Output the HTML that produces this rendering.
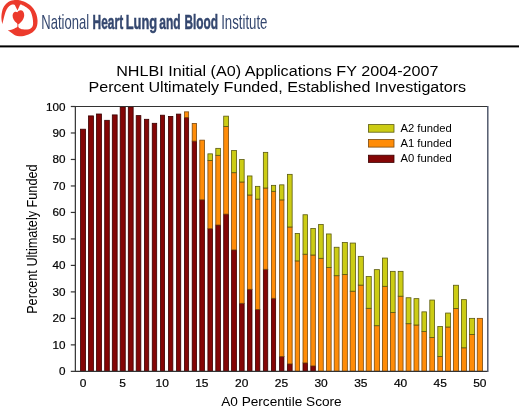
<!DOCTYPE html>
<html><head><meta charset="utf-8"><style>
html,body{margin:0;padding:0;background:#fff;}
body{width:520px;height:406px;overflow:hidden;position:relative;font-family:"Liberation Sans",sans-serif;}
svg{position:absolute;left:0;top:0;will-change:transform;}
</style></head><body>
<svg width="520" height="406" viewBox="0 0 520 406" font-family='"Liberation Sans", sans-serif'>
<g fill="#ec3a2c"><path d="M2.30,24.20 C2.15,23.13 1.40,20.08 1.40,17.80 C1.40,15.52 1.75,12.55 2.30,10.50 C2.85,8.45 3.70,6.92 4.70,5.50 C5.70,4.08 7.12,2.82 8.30,2.00 C9.48,1.18 10.72,0.92 11.80,0.60 C12.88,0.28 13.93,0.20 14.80,0.10 C15.67,0.00 16.22,-0.03 17.00,0.00 C17.78,0.03 18.67,0.12 19.50,0.30 C20.33,0.48 20.92,0.73 22.00,1.10 C23.08,1.47 24.67,1.83 26.00,2.50 C27.33,3.17 28.75,4.05 30.00,5.10 C31.25,6.15 32.45,7.32 33.50,8.80 C34.55,10.28 35.63,12.13 36.30,14.00 C36.97,15.87 37.37,18.08 37.50,20.00 C37.63,21.92 37.47,23.92 37.10,25.50 C36.73,27.08 36.10,28.35 35.30,29.50 C34.50,30.65 33.43,31.58 32.30,32.40 C31.17,33.22 29.92,33.82 28.50,34.40 C27.08,34.98 25.35,35.60 23.80,35.90 C22.25,36.20 20.58,36.28 19.20,36.20 C17.82,36.12 16.57,35.80 15.50,35.40 C14.43,35.00 13.72,34.40 12.80,33.80 C11.88,33.20 10.83,32.38 10.00,31.80 C9.17,31.22 8.17,30.55 7.80,30.30 L7.80,30.30 C8.17,30.23 9.17,30.08 10.00,29.90 C10.83,29.72 11.92,29.52 12.80,29.20 C13.68,28.88 14.55,28.40 15.30,28.00 C16.05,27.60 16.97,27.63 17.30,26.80 C17.63,25.97 17.30,23.63 17.30,23.00 L18.40,23.00 C18.40,23.63 18.20,25.93 18.40,26.80 C18.60,27.67 18.85,27.78 19.60,28.20 C20.35,28.62 21.62,29.10 22.90,29.30 C24.18,29.50 26.02,29.55 27.30,29.40 C28.58,29.25 29.72,28.92 30.60,28.40 C31.48,27.88 32.18,27.20 32.60,26.30 C33.02,25.40 33.08,24.30 33.10,23.00 C33.12,21.70 32.95,20.00 32.70,18.50 C32.45,17.00 32.08,15.37 31.60,14.00 C31.12,12.63 30.68,11.43 29.80,10.30 C28.92,9.17 27.53,8.05 26.30,7.20 C25.07,6.35 23.42,5.63 22.40,5.20 C21.38,4.77 20.57,4.70 20.20,4.60 L17.5,10.6 L14.8,5.0 L14.80,5.00 C14.60,4.92 14.25,4.50 13.60,4.50 C12.95,4.50 11.85,4.48 10.90,5.00 C9.95,5.52 8.80,6.43 7.90,7.60 C7.00,8.77 6.18,10.27 5.50,12.00 C4.82,13.73 4.33,15.97 3.80,18.00 C3.27,20.03 2.55,23.17 2.30,24.20 Z"/><path d="M18.5,24.2 C16,22.8 13.5,20.5 12.8,17.5 C12.2,14.5 13.2,12.2 15,11.8 C16,11.6 16.8,11.9 17.3,12.3 C18.2,10.8 19.6,10 21,10.2 C23.2,10.6 24.4,12.8 24.2,15.5 C24,19 21.5,22.5 18.5,24.2 Z"/></g>
<text font-size="20.349" fill="#34476f" transform="translate(41.33,29.40) scale(0.6408,1)" >National</text>
<text font-weight="bold" stroke="#34476f" stroke-width="0.5" font-size="20.349" fill="#34476f" transform="translate(92.60,29.10) scale(0.5870,1)" >Heart</text>
<text font-weight="bold" stroke="#34476f" stroke-width="0.5" font-size="20.349" fill="#34476f" transform="translate(125.64,29.10) scale(0.6340,1)" >Lung</text>
<text font-weight="bold" stroke="#34476f" stroke-width="0.5" font-size="20.349" fill="#34476f" transform="translate(159.35,29.10) scale(0.5898,1)" >and</text>
<text font-weight="bold" stroke="#34476f" stroke-width="0.5" font-size="20.349" fill="#34476f" transform="translate(184.41,29.10) scale(0.5824,1)" >Blood</text>
<text font-size="20.349" fill="#34476f" transform="translate(221.18,29.30) scale(0.6497,1)" >Institute</text>
<rect x="0" y="45.4" width="519" height="2" fill="#000"/>
<text font-size="14.680" fill="#000" transform="translate(116.17,75.60) scale(1.1020,1)" >NHLBI Initial (A0) Applications FY 2004-2007</text>
<text font-size="14.535" fill="#000" transform="translate(88.48,92.00) scale(1.1093,1)" >Percent Ultimately Funded, Established Investigators</text>
<line x1="70.8" y1="371.35" x2="75.4" y2="371.35" stroke="#333" stroke-width="1.2"/>
<text font-size="10.458" stroke="#000" stroke-width="0.2" transform="translate(59.04,375.35) scale(1.1200,1)">0</text>
<line x1="70.8" y1="344.87" x2="75.4" y2="344.87" stroke="#333" stroke-width="1.2"/>
<text font-size="10.458" stroke="#000" stroke-width="0.2" transform="translate(52.53,348.87) scale(1.1200,1)">10</text>
<line x1="70.8" y1="318.38" x2="75.4" y2="318.38" stroke="#333" stroke-width="1.2"/>
<text font-size="10.458" stroke="#000" stroke-width="0.2" transform="translate(52.53,322.38) scale(1.1200,1)">20</text>
<line x1="70.8" y1="291.89" x2="75.4" y2="291.89" stroke="#333" stroke-width="1.2"/>
<text font-size="10.458" stroke="#000" stroke-width="0.2" transform="translate(52.53,295.89) scale(1.1200,1)">30</text>
<line x1="70.8" y1="265.41" x2="75.4" y2="265.41" stroke="#333" stroke-width="1.2"/>
<text font-size="10.458" stroke="#000" stroke-width="0.2" transform="translate(52.53,269.41) scale(1.1200,1)">40</text>
<line x1="70.8" y1="238.93" x2="75.4" y2="238.93" stroke="#333" stroke-width="1.2"/>
<text font-size="10.458" stroke="#000" stroke-width="0.2" transform="translate(52.53,242.93) scale(1.1200,1)">50</text>
<line x1="70.8" y1="212.44" x2="75.4" y2="212.44" stroke="#333" stroke-width="1.2"/>
<text font-size="10.458" stroke="#000" stroke-width="0.2" transform="translate(52.53,216.44) scale(1.1200,1)">60</text>
<line x1="70.8" y1="185.96" x2="75.4" y2="185.96" stroke="#333" stroke-width="1.2"/>
<text font-size="10.458" stroke="#000" stroke-width="0.2" transform="translate(52.53,189.96) scale(1.1200,1)">70</text>
<line x1="70.8" y1="159.47" x2="75.4" y2="159.47" stroke="#333" stroke-width="1.2"/>
<text font-size="10.458" stroke="#000" stroke-width="0.2" transform="translate(52.53,163.47) scale(1.1200,1)">80</text>
<line x1="70.8" y1="132.98" x2="75.4" y2="132.98" stroke="#333" stroke-width="1.2"/>
<text font-size="10.458" stroke="#000" stroke-width="0.2" transform="translate(52.53,136.98) scale(1.1200,1)">90</text>
<line x1="70.8" y1="106.50" x2="75.4" y2="106.50" stroke="#333" stroke-width="1.2"/>
<text font-size="10.458" stroke="#000" stroke-width="0.2" transform="translate(46.02,110.50) scale(1.1200,1)">100</text>
<text font-size="10.888" fill="#000" stroke="#000" stroke-width="0.2" transform="translate(79.67,386.80) scale(1.1000,1)">0</text>
<text font-size="10.888" fill="#000" stroke="#000" stroke-width="0.2" transform="translate(119.37,386.80) scale(1.1000,1)">5</text>
<text font-size="10.888" fill="#000" stroke="#000" stroke-width="0.2" transform="translate(155.49,386.80) scale(1.1000,1)">10</text>
<text font-size="10.888" fill="#000" stroke="#000" stroke-width="0.2" transform="translate(195.19,386.80) scale(1.1000,1)">15</text>
<text font-size="10.888" fill="#000" stroke="#000" stroke-width="0.2" transform="translate(235.01,386.80) scale(1.1000,1)">20</text>
<text font-size="10.888" fill="#000" stroke="#000" stroke-width="0.2" transform="translate(274.72,386.80) scale(1.1000,1)">25</text>
<text font-size="10.888" fill="#000" stroke="#000" stroke-width="0.2" transform="translate(314.46,386.80) scale(1.1000,1)">30</text>
<text font-size="10.888" fill="#000" stroke="#000" stroke-width="0.2" transform="translate(354.16,386.80) scale(1.1000,1)">35</text>
<text font-size="10.888" fill="#000" stroke="#000" stroke-width="0.2" transform="translate(393.92,386.80) scale(1.1000,1)">40</text>
<text font-size="10.888" fill="#000" stroke="#000" stroke-width="0.2" transform="translate(433.62,386.80) scale(1.1000,1)">45</text>
<text font-size="10.888" fill="#000" stroke="#000" stroke-width="0.2" transform="translate(473.18,386.80) scale(1.1000,1)">50</text>
<rect x="80.50" y="129.20" width="5.05" height="242.15" fill="#840606" stroke="#3a0000" stroke-width="0.8"/>
<rect x="88.50" y="115.90" width="4.95" height="255.45" fill="#840606" stroke="#3a0000" stroke-width="0.8"/>
<rect x="96.50" y="114.00" width="4.95" height="257.35" fill="#840606" stroke="#3a0000" stroke-width="0.8"/>
<rect x="104.70" y="120.30" width="4.60" height="251.05" fill="#840606" stroke="#3a0000" stroke-width="0.8"/>
<rect x="112.30" y="114.90" width="4.85" height="256.45" fill="#840606" stroke="#3a0000" stroke-width="0.8"/>
<rect x="120.20" y="106.90" width="5.05" height="264.45" fill="#840606" stroke="#3a0000" stroke-width="0.8"/>
<rect x="128.30" y="106.90" width="4.85" height="264.45" fill="#840606" stroke="#3a0000" stroke-width="0.8"/>
<rect x="136.20" y="115.60" width="4.65" height="255.75" fill="#840606" stroke="#3a0000" stroke-width="0.8"/>
<rect x="144.40" y="119.30" width="4.35" height="252.05" fill="#840606" stroke="#3a0000" stroke-width="0.8"/>
<rect x="152.25" y="123.30" width="4.45" height="248.05" fill="#840606" stroke="#3a0000" stroke-width="0.8"/>
<rect x="160.45" y="115.20" width="4.15" height="256.15" fill="#840606" stroke="#3a0000" stroke-width="0.8"/>
<rect x="168.50" y="116.40" width="4.35" height="254.95" fill="#840606" stroke="#3a0000" stroke-width="0.8"/>
<rect x="176.50" y="114.10" width="4.25" height="257.25" fill="#840606" stroke="#3a0000" stroke-width="0.8"/>
<rect x="184.40" y="117.50" width="4.25" height="253.85" fill="#840606" stroke="#3a0000" stroke-width="0.8"/>
<rect x="184.40" y="111.85" width="4.25" height="5.65" fill="#ff8c08" stroke="#7a4a10" stroke-width="0.8"/>
<rect x="192.20" y="141.10" width="4.35" height="230.25" fill="#840606" stroke="#3a0000" stroke-width="0.8"/>
<rect x="192.20" y="123.45" width="4.35" height="17.65" fill="#ff8c08" stroke="#7a4a10" stroke-width="0.8"/>
<rect x="199.80" y="199.80" width="4.65" height="171.55" fill="#840606" stroke="#3a0000" stroke-width="0.8"/>
<rect x="199.80" y="140.15" width="4.65" height="59.65" fill="#ff8c08" stroke="#7a4a10" stroke-width="0.8"/>
<rect x="207.90" y="228.70" width="4.65" height="142.65" fill="#840606" stroke="#3a0000" stroke-width="0.8"/>
<rect x="207.90" y="160.40" width="4.65" height="68.30" fill="#ff8c08" stroke="#7a4a10" stroke-width="0.8"/>
<rect x="207.90" y="153.85" width="4.65" height="6.55" fill="#cccc14" stroke="#5a5a10" stroke-width="0.8"/>
<rect x="215.80" y="225.00" width="4.65" height="146.35" fill="#840606" stroke="#3a0000" stroke-width="0.8"/>
<rect x="215.80" y="155.30" width="4.65" height="69.70" fill="#ff8c08" stroke="#7a4a10" stroke-width="0.8"/>
<rect x="215.80" y="148.35" width="4.65" height="6.95" fill="#cccc14" stroke="#5a5a10" stroke-width="0.8"/>
<rect x="223.70" y="214.10" width="4.85" height="157.25" fill="#840606" stroke="#3a0000" stroke-width="0.8"/>
<rect x="223.70" y="126.40" width="4.85" height="87.70" fill="#ff8c08" stroke="#7a4a10" stroke-width="0.8"/>
<rect x="223.70" y="116.15" width="4.85" height="10.25" fill="#cccc14" stroke="#5a5a10" stroke-width="0.8"/>
<rect x="231.60" y="249.90" width="4.85" height="121.45" fill="#840606" stroke="#3a0000" stroke-width="0.8"/>
<rect x="231.60" y="172.70" width="4.85" height="77.20" fill="#ff8c08" stroke="#7a4a10" stroke-width="0.8"/>
<rect x="231.60" y="150.55" width="4.85" height="22.15" fill="#cccc14" stroke="#5a5a10" stroke-width="0.8"/>
<rect x="239.60" y="303.30" width="4.55" height="68.05" fill="#840606" stroke="#3a0000" stroke-width="0.8"/>
<rect x="239.60" y="182.00" width="4.55" height="121.30" fill="#ff8c08" stroke="#7a4a10" stroke-width="0.8"/>
<rect x="239.60" y="159.55" width="4.55" height="22.45" fill="#cccc14" stroke="#5a5a10" stroke-width="0.8"/>
<rect x="247.45" y="289.30" width="4.55" height="82.05" fill="#840606" stroke="#3a0000" stroke-width="0.8"/>
<rect x="247.45" y="195.00" width="4.55" height="94.30" fill="#ff8c08" stroke="#7a4a10" stroke-width="0.8"/>
<rect x="247.45" y="175.95" width="4.55" height="19.05" fill="#cccc14" stroke="#5a5a10" stroke-width="0.8"/>
<rect x="255.45" y="309.50" width="4.40" height="61.85" fill="#840606" stroke="#3a0000" stroke-width="0.8"/>
<rect x="255.45" y="199.10" width="4.40" height="110.40" fill="#ff8c08" stroke="#7a4a10" stroke-width="0.8"/>
<rect x="255.45" y="186.35" width="4.40" height="12.75" fill="#cccc14" stroke="#5a5a10" stroke-width="0.8"/>
<rect x="263.35" y="269.30" width="4.40" height="102.05" fill="#840606" stroke="#3a0000" stroke-width="0.8"/>
<rect x="263.35" y="188.00" width="4.40" height="81.30" fill="#ff8c08" stroke="#7a4a10" stroke-width="0.8"/>
<rect x="263.35" y="152.35" width="4.40" height="35.65" fill="#cccc14" stroke="#5a5a10" stroke-width="0.8"/>
<rect x="271.40" y="298.30" width="4.25" height="73.05" fill="#840606" stroke="#3a0000" stroke-width="0.8"/>
<rect x="271.40" y="191.30" width="4.25" height="107.00" fill="#ff8c08" stroke="#7a4a10" stroke-width="0.8"/>
<rect x="271.40" y="185.35" width="4.25" height="5.95" fill="#cccc14" stroke="#5a5a10" stroke-width="0.8"/>
<rect x="279.60" y="356.50" width="4.35" height="14.85" fill="#840606" stroke="#3a0000" stroke-width="0.8"/>
<rect x="279.60" y="199.90" width="4.35" height="156.60" fill="#ff8c08" stroke="#7a4a10" stroke-width="0.8"/>
<rect x="279.60" y="184.85" width="4.35" height="15.05" fill="#cccc14" stroke="#5a5a10" stroke-width="0.8"/>
<rect x="287.40" y="363.90" width="4.75" height="7.45" fill="#840606" stroke="#3a0000" stroke-width="0.8"/>
<rect x="287.40" y="227.00" width="4.75" height="136.90" fill="#ff8c08" stroke="#7a4a10" stroke-width="0.8"/>
<rect x="287.40" y="174.35" width="4.75" height="52.65" fill="#cccc14" stroke="#5a5a10" stroke-width="0.8"/>
<rect x="295.20" y="260.90" width="4.35" height="110.45" fill="#ff8c08" stroke="#7a4a10" stroke-width="0.8"/>
<rect x="295.20" y="233.45" width="4.35" height="27.45" fill="#cccc14" stroke="#5a5a10" stroke-width="0.8"/>
<rect x="303.00" y="362.90" width="4.45" height="8.45" fill="#840606" stroke="#3a0000" stroke-width="0.8"/>
<rect x="303.00" y="254.20" width="4.45" height="108.70" fill="#ff8c08" stroke="#7a4a10" stroke-width="0.8"/>
<rect x="303.00" y="214.75" width="4.45" height="39.45" fill="#cccc14" stroke="#5a5a10" stroke-width="0.8"/>
<rect x="310.80" y="365.90" width="4.55" height="5.45" fill="#840606" stroke="#3a0000" stroke-width="0.8"/>
<rect x="310.80" y="255.00" width="4.55" height="110.90" fill="#ff8c08" stroke="#7a4a10" stroke-width="0.8"/>
<rect x="310.80" y="228.55" width="4.55" height="26.45" fill="#cccc14" stroke="#5a5a10" stroke-width="0.8"/>
<rect x="318.60" y="258.30" width="4.65" height="113.05" fill="#ff8c08" stroke="#7a4a10" stroke-width="0.8"/>
<rect x="318.60" y="224.55" width="4.65" height="33.75" fill="#cccc14" stroke="#5a5a10" stroke-width="0.8"/>
<rect x="326.50" y="267.60" width="4.65" height="103.75" fill="#ff8c08" stroke="#7a4a10" stroke-width="0.8"/>
<rect x="326.50" y="233.95" width="4.65" height="33.65" fill="#cccc14" stroke="#5a5a10" stroke-width="0.8"/>
<rect x="334.20" y="275.70" width="4.85" height="95.65" fill="#ff8c08" stroke="#7a4a10" stroke-width="0.8"/>
<rect x="334.20" y="247.25" width="4.85" height="28.45" fill="#cccc14" stroke="#5a5a10" stroke-width="0.8"/>
<rect x="342.30" y="274.50" width="5.05" height="96.85" fill="#ff8c08" stroke="#7a4a10" stroke-width="0.8"/>
<rect x="342.30" y="242.55" width="5.05" height="31.95" fill="#cccc14" stroke="#5a5a10" stroke-width="0.8"/>
<rect x="350.20" y="291.20" width="5.25" height="80.15" fill="#ff8c08" stroke="#7a4a10" stroke-width="0.8"/>
<rect x="350.20" y="243.05" width="5.25" height="48.15" fill="#cccc14" stroke="#5a5a10" stroke-width="0.8"/>
<rect x="358.30" y="285.10" width="5.05" height="86.25" fill="#ff8c08" stroke="#7a4a10" stroke-width="0.8"/>
<rect x="358.30" y="256.35" width="5.05" height="28.75" fill="#cccc14" stroke="#5a5a10" stroke-width="0.8"/>
<rect x="366.20" y="308.30" width="5.05" height="63.05" fill="#ff8c08" stroke="#7a4a10" stroke-width="0.8"/>
<rect x="366.20" y="276.55" width="5.05" height="31.75" fill="#cccc14" stroke="#5a5a10" stroke-width="0.8"/>
<rect x="374.30" y="325.70" width="5.25" height="45.65" fill="#ff8c08" stroke="#7a4a10" stroke-width="0.8"/>
<rect x="374.30" y="269.65" width="5.25" height="56.05" fill="#cccc14" stroke="#5a5a10" stroke-width="0.8"/>
<rect x="382.40" y="286.30" width="5.05" height="85.05" fill="#ff8c08" stroke="#7a4a10" stroke-width="0.8"/>
<rect x="382.40" y="258.05" width="5.05" height="28.25" fill="#cccc14" stroke="#5a5a10" stroke-width="0.8"/>
<rect x="390.40" y="312.50" width="4.75" height="58.85" fill="#ff8c08" stroke="#7a4a10" stroke-width="0.8"/>
<rect x="390.40" y="271.35" width="4.75" height="41.15" fill="#cccc14" stroke="#5a5a10" stroke-width="0.8"/>
<rect x="398.20" y="296.20" width="4.85" height="75.15" fill="#ff8c08" stroke="#7a4a10" stroke-width="0.8"/>
<rect x="398.20" y="271.35" width="4.85" height="24.85" fill="#cccc14" stroke="#5a5a10" stroke-width="0.8"/>
<rect x="406.10" y="323.70" width="4.85" height="47.65" fill="#ff8c08" stroke="#7a4a10" stroke-width="0.8"/>
<rect x="406.10" y="297.75" width="4.85" height="25.95" fill="#cccc14" stroke="#5a5a10" stroke-width="0.8"/>
<rect x="414.00" y="325.00" width="4.85" height="46.35" fill="#ff8c08" stroke="#7a4a10" stroke-width="0.8"/>
<rect x="414.00" y="298.65" width="4.85" height="26.35" fill="#cccc14" stroke="#5a5a10" stroke-width="0.8"/>
<rect x="421.90" y="331.60" width="4.65" height="39.75" fill="#ff8c08" stroke="#7a4a10" stroke-width="0.8"/>
<rect x="421.90" y="311.85" width="4.65" height="19.75" fill="#cccc14" stroke="#5a5a10" stroke-width="0.8"/>
<rect x="429.80" y="337.50" width="4.65" height="33.85" fill="#ff8c08" stroke="#7a4a10" stroke-width="0.8"/>
<rect x="429.80" y="300.05" width="4.65" height="37.45" fill="#cccc14" stroke="#5a5a10" stroke-width="0.8"/>
<rect x="437.80" y="356.50" width="4.75" height="14.85" fill="#ff8c08" stroke="#7a4a10" stroke-width="0.8"/>
<rect x="437.80" y="326.55" width="4.75" height="29.95" fill="#cccc14" stroke="#5a5a10" stroke-width="0.8"/>
<rect x="445.60" y="327.00" width="4.85" height="44.35" fill="#ff8c08" stroke="#7a4a10" stroke-width="0.8"/>
<rect x="445.60" y="313.05" width="4.85" height="13.95" fill="#cccc14" stroke="#5a5a10" stroke-width="0.8"/>
<rect x="453.50" y="308.50" width="5.05" height="62.85" fill="#ff8c08" stroke="#7a4a10" stroke-width="0.8"/>
<rect x="453.50" y="285.25" width="5.05" height="23.25" fill="#cccc14" stroke="#5a5a10" stroke-width="0.8"/>
<rect x="461.40" y="347.80" width="5.05" height="23.55" fill="#ff8c08" stroke="#7a4a10" stroke-width="0.8"/>
<rect x="461.40" y="299.65" width="5.05" height="48.15" fill="#cccc14" stroke="#5a5a10" stroke-width="0.8"/>
<rect x="469.45" y="334.40" width="5.20" height="36.95" fill="#ff8c08" stroke="#7a4a10" stroke-width="0.8"/>
<rect x="469.45" y="318.35" width="5.20" height="16.05" fill="#cccc14" stroke="#5a5a10" stroke-width="0.8"/>
<rect x="477.25" y="318.35" width="5.25" height="53.00" fill="#ff8c08" stroke="#7a4a10" stroke-width="0.8"/>
<path d="M487.5,106.5 H75.35 V371.35 H487.5" fill="none" stroke="#333" stroke-width="1.2"/>
<line x1="487.8" y1="105.9" x2="487.8" y2="371.95" stroke="#485064" stroke-width="1.4"/>
<rect x="368.4" y="124.6" width="25.6" height="7.6" fill="#cccc14" stroke="#5a5a10" stroke-width="0.8"/>
<rect x="368.4" y="139.5" width="25.6" height="7.6" fill="#ff8c08" stroke="#7a4a10" stroke-width="0.8"/>
<rect x="368.4" y="155.2" width="25.6" height="7.2" fill="#840606" stroke="#3a0000" stroke-width="0.8"/>
<text font-size="10.029" fill="#000" transform="translate(400.38,132.10) scale(1.1252,1)" >A2 funded</text>
<text font-size="10.029" fill="#000" transform="translate(400.38,146.80) scale(1.1252,1)" >A1 funded</text>
<text font-size="10.029" fill="#000" transform="translate(400.38,162.10) scale(1.1252,1)" >A0 funded</text>
<g transform="translate(36.7,313.84) rotate(-90)"><text font-size="13.808" transform="scale(0.9192,1)">Percent Ultimately Funded</text></g>
<text font-size="12.936" fill="#000" transform="translate(221.17,406.00) scale(1.0551,1)" >A0 Percentile Score</text>
</svg>
</body></html>
